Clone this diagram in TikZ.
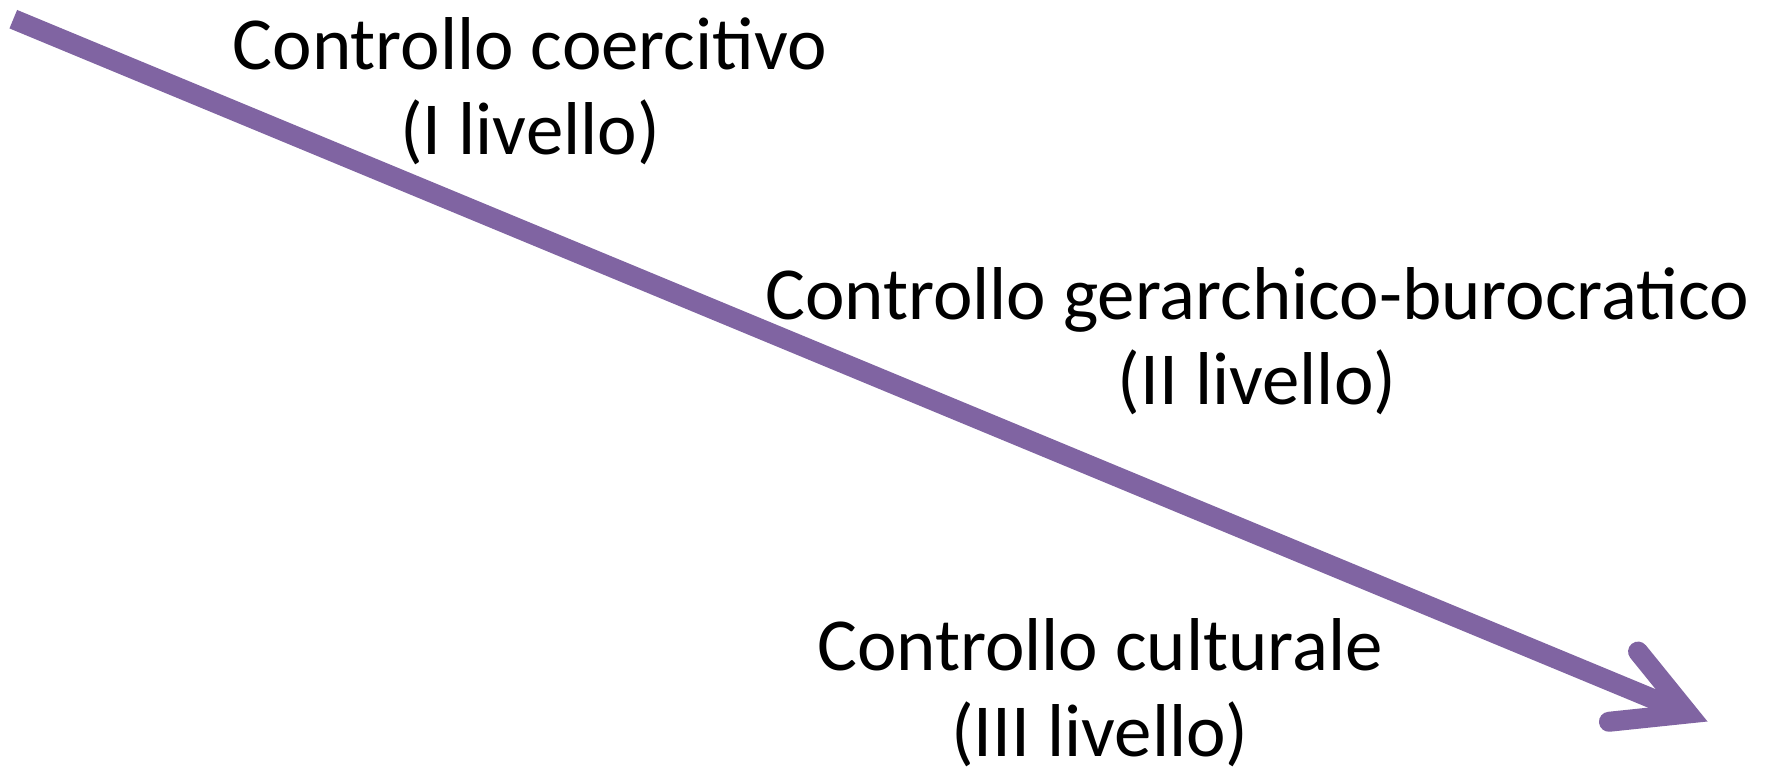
\documentclass[tikz,border=0pt]{standalone}
\usepackage{fontspec}
\setmainfont{Carlito}
\usepackage{tikz}
\usetikzlibrary{arrows.meta}
\definecolor{viola}{RGB}{128,100,162}
\tikzstyle{livello} = [align=center, anchor=base, inner sep=0pt, font=\fontsize{21.3pt}{24.3pt}\selectfont]
\tikzstyle{freccia} = [draw=viola, line width=0.2cm, -{Straight Barb[length=0.7cm, width=0.76cm, line cap=round, line join=miter]}]

\begin{document}
\begin{tikzpicture}

        \useasboundingbox (0,0) rectangle (17.65,7.68);

        \coordinate (inizio) at (0.133,7.488);
        \coordinate (fine) at (17.075,0.465);

        \node (coercitivo) [livello] at (5.30,6.13) {Controllo coercitivo\\(I livello)};
        \node (gerarchico) [livello] at (12.57,3.63) {Controllo gerarchico-burocratico\\(II livello)};
        \node (culturale) [livello] at (11.00,0.12) {Controllo culturale\\(III livello)};

        \draw [freccia] (inizio) -- (fine);

      \end{tikzpicture}
\end{document}
